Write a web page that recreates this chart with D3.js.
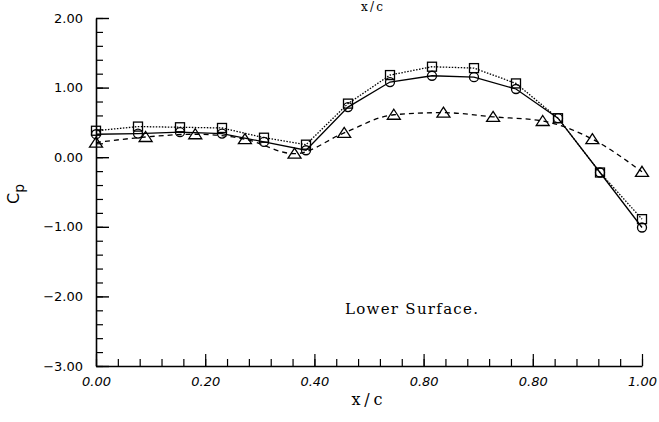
<!DOCTYPE html>
<html>
<head>
<meta charset="utf-8">
<script src="https://cdn.jsdelivr.net/npm/d3@7"></script>
<style>
  body { margin: 0; background: #fff; }
  svg { display: block; }
</style>
</head>
<body>
<script>
var w = 659;  // window width
var h = 422;  // window height

// chordwise stations (x/c)
var xCircleSquare = d3.range(14).map(function(i) { return i / 13; });
var xTriangle = d3.range(12).map(function(i) { return i / 11; });

// Cp values
var cpCircle = [0.33, 0.34, 0.36, 0.34, 0.22, 0.10, 0.72, 1.08, 1.17, 1.15, 0.98, 0.56, -0.22, -1.01];
var cpSquare = [0.38, 0.44, 0.43, 0.42, 0.28, 0.18, 0.77, 1.18, 1.30, 1.28, 1.06, 0.56, -0.22, -0.89];
var cpTriangle = [0.21, 0.29, 0.33, 0.26, 0.05, 0.35, 0.61, 0.64, 0.58, 0.52, 0.26, -0.21];

// tick labels as printed
var xTickValues = [0, 0.2, 0.4, 0.6, 0.8, 1.0];
var xTickLabels = ["0.00", "0.20", "0.40", "0.80", "0.80", "1.00"];
var yTickValues = [2, 1, 0, -1, -2, -3];
var yTickLabels = ["2.00", "1.00", "0.00", "\u22121.00", "\u22122.00", "\u22123.00"];

var xScale = d3.scaleLinear().domain([0, 1]).range([96, 642]);
var yScale = d3.scaleLinear().domain([-3, 2]).range([366, 18]);

var svg = d3.select("body").append("svg")
    .attr("width", w)
    .attr("height", h);

// minor ticks first (short, pointing inward)
svg.append("g")
    .attr("transform", "translate(0," + yScale(-3) + ")")
    .call(d3.axisBottom(xScale).tickValues(d3.range(0, 1.0001, 0.04)).tickSizeInner(-7).tickSizeOuter(0).tickFormat(""))
    .call(function(g) { g.select(".domain").remove(); g.selectAll("line").attr("stroke-width", 1.2); });

svg.append("g")
    .attr("transform", "translate(" + xScale(0) + ",0)")
    .call(d3.axisLeft(yScale).tickValues(d3.range(-3, 2.0001, 0.2)).tickSizeInner(-7).tickSizeOuter(0).tickFormat(""))
    .call(function(g) { g.select(".domain").remove(); g.selectAll("line").attr("stroke-width", 1.2); });

// major ticks with labels
svg.append("g")
    .attr("transform", "translate(0," + yScale(-3) + ")")
    .call(d3.axisBottom(xScale).tickValues(xTickValues).tickSizeInner(-12).tickSizeOuter(0).tickPadding(11)
        .tickFormat(function(d, i) { return xTickLabels[i]; }))
    .call(function(g) {
        g.select(".domain").attr("stroke-width", 1.6);
        g.selectAll("line").attr("stroke-width", 1.2);
        g.selectAll("text")
            .attr("font-family", "DejaVu Sans")
            .attr("font-style", "italic")
            .attr("font-size", 13)
            .attr("fill", "#000");
    });

svg.append("g")
    .attr("transform", "translate(" + xScale(0) + ",0)")
    .call(d3.axisLeft(yScale).tickValues(yTickValues).tickSizeInner(-13).tickSizeOuter(0).tickPadding(13)
        .tickFormat(function(d, i) { return yTickLabels[i]; }))
    .call(function(g) {
        g.select(".domain").attr("stroke-width", 1.6);
        g.selectAll("line").attr("stroke-width", 1.4);
        g.selectAll("text")
            .attr("font-family", "DejaVu Sans")
            .attr("font-size", 13)
            .attr("fill", "#000");
    });

// lines
var line = d3.line()
    .x(function(d) { return xScale(d[0]); })
    .y(function(d) { return yScale(d[1]); });

var smooth = d3.line()
    .x(function(d) { return xScale(d[0]); })
    .y(function(d) { return yScale(d[1]); })
    .curve(d3.curveMonotoneX);

var circlePts = d3.zip(xCircleSquare, cpCircle);
var squarePts = d3.zip(xCircleSquare, cpSquare);
var trianglePts = d3.zip(xTriangle, cpTriangle);

svg.append("path").datum(trianglePts)
    .attr("d", smooth).attr("fill", "none").attr("stroke", "#000")
    .attr("stroke-width", 1.3).attr("stroke-dasharray", "5,4");

svg.append("path").datum(squarePts)
    .attr("d", line).attr("fill", "none").attr("stroke", "#000")
    .attr("stroke-width", 1.3).attr("stroke-dasharray", "1.5,1.5");

svg.append("path").datum(circlePts)
    .attr("d", line).attr("fill", "none").attr("stroke", "#000")
    .attr("stroke-width", 1.3);

// markers
svg.selectAll(".circ").data(circlePts).enter().append("circle")
    .attr("class", "circ")
    .attr("cx", function(d) { return xScale(d[0]); })
    .attr("cy", function(d) { return yScale(d[1]); })
    .attr("r", 4.5)
    .attr("fill", "none").attr("stroke", "#000").attr("stroke-width", 1.3);

svg.selectAll(".sq").data(squarePts).enter().append("rect")
    .attr("class", "sq")
    .attr("x", function(d) { return xScale(d[0]) - 4.5; })
    .attr("y", function(d) { return yScale(d[1]) - 4.5; })
    .attr("width", 9).attr("height", 9)
    .attr("fill", "none").attr("stroke", "#000").attr("stroke-width", 1.3);

svg.selectAll(".tri").data(trianglePts).enter().append("path")
    .attr("class", "tri")
    .attr("transform", function(d) { return "translate(" + xScale(d[0]) + "," + yScale(d[1]) + ")"; })
    .attr("d", "M0,-5.5L6.5,4.5L-6.5,4.5Z")
    .attr("fill", "none").attr("stroke", "#000").attr("stroke-width", 1.3);

// axis titles
svg.append("text")
    .attr("x", 367).attr("y", 405)
    .attr("text-anchor", "middle")
    .attr("font-family", "DejaVu Serif")
    .attr("font-size", 16)
    .attr("textLength", 31).attr("lengthAdjust", "spacing")
    .text("x/c");

var cp = svg.append("text")
    .attr("transform", "translate(19,194) rotate(-90)")
    .attr("text-anchor", "middle")
    .attr("font-family", "DejaVu Sans")
    .attr("font-size", 16);
cp.append("tspan").text("C");
cp.append("tspan").attr("font-size", 14).attr("dy", 5).text("p");

// title of the plot above, mostly cut off in the source
svg.append("text")
    .attr("x", 372).attr("y", 11)
    .attr("text-anchor", "middle")
    .attr("font-family", "DejaVu Serif")
    .attr("font-size", 12)
    .attr("textLength", 22).attr("lengthAdjust", "spacing")
    .text("x/c");

// annotation
svg.append("text")
    .attr("x", 345).attr("y", 314)
    .attr("font-family", "DejaVu Serif")
    .attr("font-size", 15)
    .attr("textLength", 133).attr("lengthAdjust", "spacing")
    .text("Lower Surface.");
</script>
</body>
</html>
